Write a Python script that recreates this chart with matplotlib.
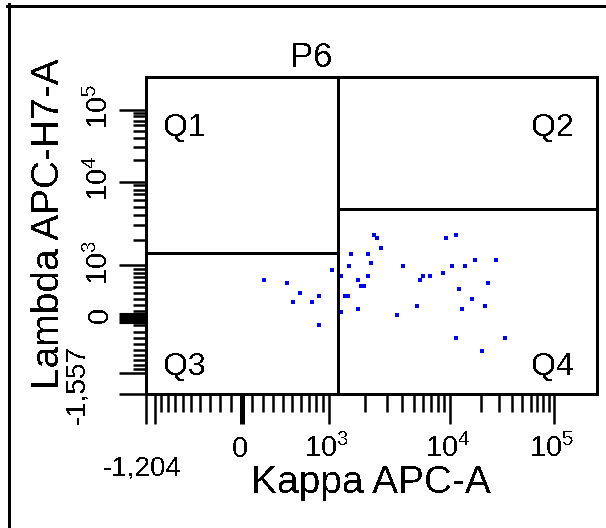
import numpy as np
import matplotlib
matplotlib.use('Agg')
import matplotlib.pyplot as plt
from matplotlib.lines import Line2D

plt.rcParams['text.antialiased'] = False

# events: Kappa APC-A (x) and Lambda APC-H7-A (y)
kappa = [205, 441, 585, 503, 750, 846, 846, 1059,
         1264, 1264, 1356, 1444, 1455, 1529, 1737, 1737, 1849, 1957,
         2101, 2101, 2237, 2368, 2507, 2691, 3668, 4111, 5306, 5682,
         6017, 6833, 8704, 9320, 10527, 11437, 12314, 13165, 14078,
         11437, 16462, 17604, 22010, 23535, 20587, 27536, 34200]
lam = [644, 576, 401, 241, 241, 339, -106, 870,
       724, 86, 339, 339, 967, 1373, 644, 132, 518, 518,
       724, 1373, 1047, 2297, 2118, 1615, 41, 967, 187, 644,
       724, 724, 790, 2118, 967, 2297, 462, 132, 967,
       -304, 290, 1136, 187, 576, -526, 1136, -304]

# quadrant gate
gate_x = 1190
gate_y_left = 1380
gate_y_right = 4680

x_min, x_max = -1204, 262143
y_min, y_max = -1557, 262143

x_major = [-1204, -1000, 0, 1000, 10000, 100000]
y_major = [-1557, -1000, 0, 1000, 10000, 100000]
label_vals = [0, 1000, 10000, 100000]
labels = ['0', '$\\mathregular{10^3}$', '$\\mathregular{10^4}$', '$\\mathregular{10^5}$']
x_min_label = '-1,204'
y_min_label = '-1,557'
minor = ([-k * 100 for k in range(1, 10)] + [k * 100 for k in range(1, 10)]
         + [k * 1000 for k in range(2, 10)] + [k * 10000 for k in range(2, 10)])

# biexponential-like display: anchor values and where they sit (reference pixels)
C = 667.0


def g(v):
    v = np.asarray(v, float)
    a = np.abs(v)
    big = np.sign(v) * np.log10(np.maximum(a, 1000))
    small = 3 * np.arcsinh(v / C) / np.arcsinh(1000 / C)
    return np.where(a >= 1000, big, small)


def ginv(t):
    t = np.asarray(t, float)
    big = np.sign(t) * 10 ** np.minimum(np.abs(t), 6)
    small = C * np.sinh(t * np.arcsinh(1000 / C) / 3)
    return np.where(np.abs(t) >= 3, big, small)


def biex(vals, pix):
    gv = g(vals)
    pix = np.asarray(pix, float)
    fr = (pix - pix[0]) / (pix[-1] - pix[0])
    return (lambda v: np.interp(g(v), gv, fr),
            lambda f: ginv(np.interp(f, fr, gv)))


x_fwd, x_inv = biex([x_min, -1000, 0, 1000, 1e4, 1e5, x_max],
                    [145.5, 155, 241.5, 329, 450, 553.5, 597])
y_fwd, y_inv = biex([y_min, -1000, 0, 1000, 1e4, 1e5, y_max],
                    [393.5, 373, 318, 265, 181.5, 109.5, 76.5])

NARROW = ['Liberation Sans Narrow', 'Liberation Sans']
SANS = ['Liberation Sans', 'DejaVu Sans']
LW = 2.16

fig = plt.figure(figsize=(6.06, 5.28), dpi=100)
ax = fig.add_axes([145.5 / 606, 134.5 / 528, 451.5 / 606, 317 / 528])
ax.set_xscale('function', functions=(x_fwd, x_inv))
ax.set_yscale('function', functions=(y_fwd, y_inv))

ax.plot(kappa, lam, 's', color='#0000ff', ms=2.5, mew=0, antialiased=False)

ax.axvline(gate_x, color='black', lw=LW)
ax.plot([x_min, gate_x], [gate_y_left, gate_y_left], color='black', lw=LW)
ax.plot([gate_x, x_max], [gate_y_right, gate_y_right], color='black', lw=LW)

ax.set_xlim(x_min, x_max)
ax.set_ylim(y_min, y_max)

for s in ax.spines.values():
    s.set_linewidth(LW)

ax.set_xticks(x_major)
ax.set_xticks(minor, minor=True)
ax.set_yticks(y_major)
ax.set_yticks(minor, minor=True)
ax.set_xticklabels([])
ax.set_yticklabels([])
ax.set_xticklabels([], minor=True)
ax.set_yticklabels([], minor=True)
ax.tick_params(axis='x', which='major', length=21.6, width=1.8, direction='out')
ax.tick_params(axis='x', which='minor', length=13, width=1.8, direction='out')
ax.tick_params(axis='y', which='major', length=19.4, width=1.8, direction='out')
ax.tick_params(axis='y', which='minor', length=9.4, width=1.8, direction='out')
ax.xaxis.get_major_ticks()[2].tick1line.set_markeredgewidth(3.6)
ax.yaxis.get_major_ticks()[2].tick1line.set_markeredgewidth(8.0)

# tick labels
for v, lbl in zip(label_vals, labels):
    ax.annotate(lbl, xy=(v, 0), xycoords=('data', 'axes fraction'),
                xytext=(-1.5 if v else -1, -45.7), textcoords='offset points',
                ha='center', va='baseline', fontsize=21, family=NARROW)
    ax.annotate(lbl, xy=(0, v), xycoords=('axes fraction', 'data'),
                xytext=(-23, 2), textcoords='offset points',
                ha='right', va='center', rotation=90, fontsize=21, family=NARROW)
ax.annotate(x_min_label, xy=(x_min, 0), xycoords=('data', 'axes fraction'),
            xytext=(-2.2, -58.7), textcoords='offset points',
            ha='center', va='baseline', fontsize=20, family=SANS)
ax.annotate(y_min_label, xy=(0, y_min), xycoords=('axes fraction', 'data'),
            xytext=(-40, 6.5), textcoords='offset points',
            ha='right', va='center', rotation=90, fontsize=20, family=SANS)

# quadrant names
ax.text(0.039, 0.812, 'Q1', transform=ax.transAxes, fontsize=23, family=SANS, va='baseline')
ax.text(0.949, 0.812, 'Q2', transform=ax.transAxes, fontsize=23, family=SANS, va='baseline', ha='right')
ax.text(0.039, 0.058, 'Q3', transform=ax.transAxes, fontsize=23, family=SANS, va='baseline')
ax.text(0.949, 0.058, 'Q4', transform=ax.transAxes, fontsize=23, family=SANS, va='baseline', ha='right')

fig.text(311.5 / 606, 1 - 67 / 528, 'P6', fontsize=25, family=SANS, ha='center', va='baseline')
fig.text(371 / 606, 1 - 493 / 528, 'Kappa APC-A', fontsize=28, family=SANS, ha='center', va='baseline')
fig.text(49 / 606, 1 - 223.5 / 528, 'Lambda APC-H7-A', fontsize=28, family=SANS,
         ha='center', va='center', rotation=90)

# outer frame (top and left edges only)
fig.add_artist(Line2D([7 / 606, 1], [1 - 5.5 / 528] * 2, color='black', lw=LW))
fig.add_artist(Line2D([8.5 / 606] * 2, [0, 1 - 4 / 528], color='black', lw=LW))

fig.savefig('out.png', dpi=100)
